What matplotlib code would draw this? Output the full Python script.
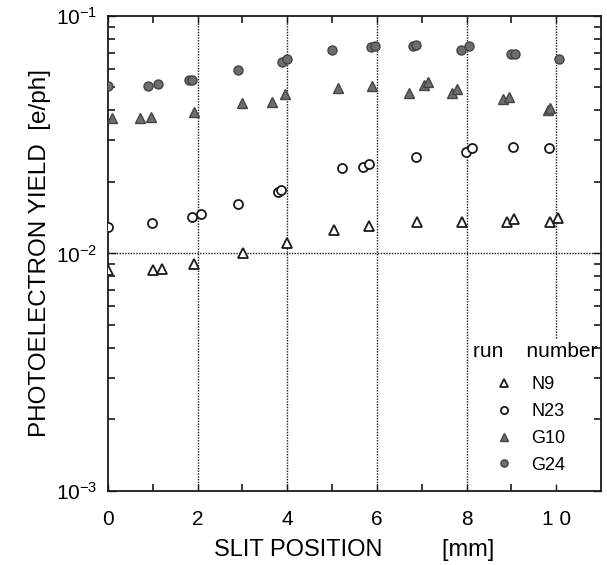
import matplotlib
matplotlib.use("Agg")
import matplotlib.pyplot as plt
from matplotlib.ticker import FixedLocator, LogLocator, NullFormatter

plt.rcParams['font.family'] = ['Liberation Sans', 'DejaVu Sans']
plt.rcParams['mathtext.default'] = 'regular'

# run N9 (open triangles)
n9_x = [0.0, 1.0, 1.21, 1.92, 3.02, 4.0, 5.05, 5.83, 6.89, 7.91, 8.9, 9.05, 9.86, 10.04]
n9_y = [0.0085, 0.0085, 0.0086, 0.0090, 0.0100, 0.0111, 0.0125, 0.0130, 0.0135,
        0.0136, 0.0136, 0.0140, 0.0136, 0.0141]

# run N23 (open circles)
n23_x = [0.0, 0.98, 1.88, 2.07, 2.91, 3.79, 3.87, 5.22, 5.70, 5.83, 6.87, 7.98, 8.12, 9.04, 9.84]
n23_y = [0.0129, 0.0134, 0.0142, 0.0146, 0.0162, 0.0182, 0.0185, 0.0229, 0.0231, 0.0239,
         0.0255, 0.0268, 0.0277, 0.0281, 0.0277]

# run G10 (filled triangles)
g10_x = [0.08, 0.71, 0.95, 1.92, 2.98, 3.65, 3.95, 5.14, 5.88, 6.72, 7.05, 7.15, 7.67, 7.78,
         8.82, 8.94, 9.81, 9.86]
g10_y = [0.0370, 0.0370, 0.0376, 0.0395, 0.0428, 0.0432, 0.0467, 0.0495, 0.0507, 0.0475,
         0.0512, 0.0528, 0.0475, 0.0492, 0.0446, 0.0454, 0.0401, 0.0410]

# run G24 (filled circles)
g24_x = [0.0, 0.89, 1.12, 1.81, 1.87, 2.91, 3.89, 4.0, 5.0, 5.87, 5.96, 6.81, 6.88, 7.88,
         8.06, 9.0, 9.08, 10.07]
g24_y = [0.0507, 0.0507, 0.0516, 0.0537, 0.0537, 0.0592, 0.0641, 0.0660, 0.0719, 0.0740,
         0.0747, 0.0747, 0.0755, 0.0719, 0.0747, 0.0691, 0.0691, 0.0659]

x_major = [0, 2, 4, 6, 8, 10]
x_labels = ['0', '2', '4', '6', '8', '1 0']
x_minor = [1, 3, 5, 7, 9]
y_major = [1e-3, 1e-2, 1e-1]
y_labels = ['$10^{-3}$', '$10^{-2}$', '$10^{-1}$']

ink = '#1a1a1a'
fill = '#6e6e6e'

fig = plt.figure(figsize=(6.07, 5.65), dpi=100)
ax = fig.add_axes([0.178, 0.131, 0.812, 0.841])

ax.set_yscale('log')
ax.set_xlim(0, 11)
ax.set_ylim(1e-3, 1e-1)

vlines = []
for xv in x_major[1:]:
    vlines.append(ax.axvline(xv, color=ink, lw=1.0, ls=(0, (1, 1)), zorder=1))
ax.axhline(1e-2, color=ink, lw=1.0, ls=(0, (1, 1)), zorder=1)

ms = 6.5
ax.plot(n9_x, n9_y, ls='none', marker='^', ms=ms, mfc='white', mec=ink, mew=1.3,
        label='N9', zorder=3)
ax.plot(n23_x, n23_y, ls='none', marker='o', ms=ms, mfc='white', mec=ink, mew=1.3,
        label='N23', zorder=3)
ax.plot(g10_x, g10_y, ls='none', marker='^', ms=ms, mfc=fill, mec='#444444', mew=1.0,
        label='G10', zorder=3)
ax.plot(g24_x, g24_y, ls='none', marker='o', ms=ms, mfc=fill, mec='#444444', mew=1.0,
        label='G24', zorder=3)

ax.xaxis.set_major_locator(FixedLocator(x_major))
ax.set_xticklabels(x_labels)
ax.xaxis.set_minor_locator(FixedLocator(x_minor))
ax.yaxis.set_major_locator(FixedLocator(y_major))
ax.set_yticklabels(y_labels)
ax.yaxis.set_minor_locator(LogLocator(base=10, subs=range(2, 10)))
ax.yaxis.set_minor_formatter(NullFormatter())

ax.tick_params(which='both', direction='in', top=True, right=True, color=ink,
               labelsize=15)
ax.tick_params(axis='x', which='major', length=5, width=1, pad=14)
ax.tick_params(axis='y', which='major', length=6, width=1, pad=8)
ax.tick_params(which='minor', length=5, width=1.2)
for s in ax.spines.values():
    s.set_linewidth(1.3)
    s.set_color(ink)

ax.set_xlabel('SLIT POSITION         [mm]', fontsize=17, labelpad=7)
ax.set_ylabel('PHOTOELECTRON YIELD  [e/ph]', fontsize=17.5, labelpad=3)

title = ax.text(0.992, 0.293, 'run    number', transform=ax.transAxes, ha='right',
                va='center', fontsize=15)
leg = ax.legend(loc='upper left', bbox_to_anchor=(0.785, 0.242), borderaxespad=0,
                fontsize=13, frameon=False, markerscale=0.8, borderpad=0,
                handlelength=1.0, handletextpad=1.0, labelspacing=0.55)

# the x = 10 guide line stops just above the legend title
fig.canvas.draw()
top = title.get_window_extent().transformed(ax.transAxes.inverted()).y1
vlines[-1].set_ydata([top + 0.01, 1])

fig.savefig('out.png', dpi=100)
